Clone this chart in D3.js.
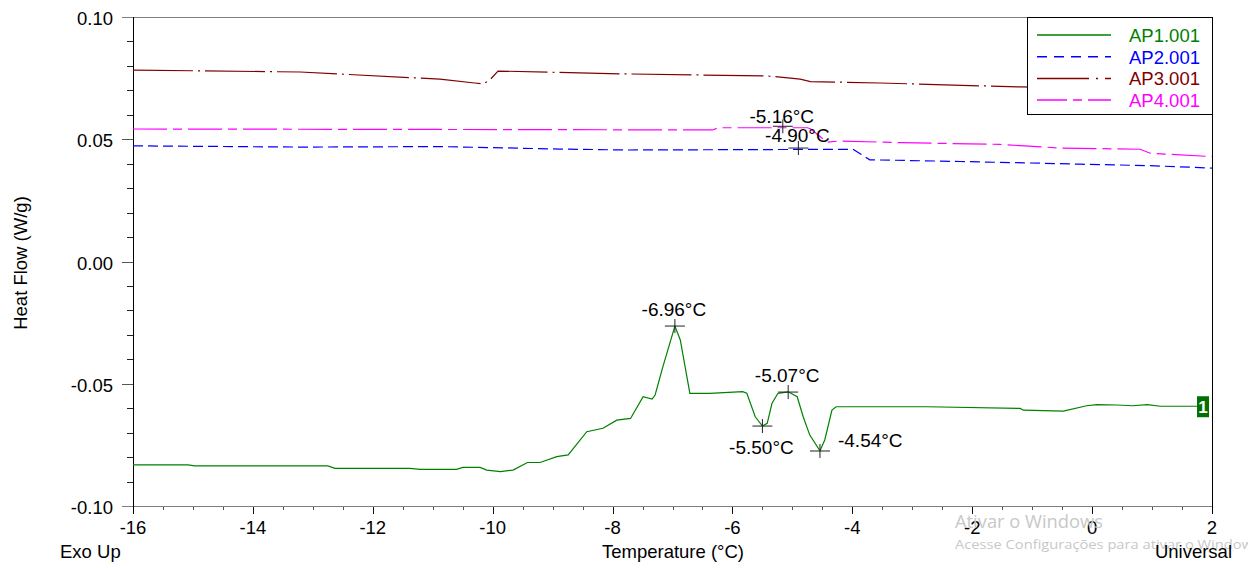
<!DOCTYPE html>
<html>
<head>
<meta charset="utf-8">
<script src="https://cdn.jsdelivr.net/npm/d3@7"></script>
<style>
  html, body { margin: 0; padding: 0; background: #fff; }
  svg { display: block; font-family: "Liberation Sans", Arial, sans-serif; }
</style>
</head>
<body>
<svg id="chart" width="1248" height="568"></svg>
<script>
// ---------- DATA ----------
const xTicks = [-16, -14, -12, -10, -8, -6, -4, -2, 0, 2];
const yTicks = [0.10, 0.05, 0.00, -0.05, -0.10];
const yTickLabels = ["0.10", "0.05", "0.00", "-0.05", "-0.10"];

const seriesNames = ["AP1.001", "AP2.001", "AP3.001", "AP4.001"];

// [temperature °C, heat flow W/g]
const ap1 = [
  [-16, -0.0832], [-15.08, -0.0832], [-14.97, -0.0836], [-12.75, -0.0836],
  [-12.63, -0.0846], [-11.38, -0.0846], [-11.21, -0.0850], [-10.60, -0.0850],
  [-10.50, -0.0842], [-10.21, -0.0842], [-10.10, -0.0853], [-9.87, -0.0859],
  [-9.66, -0.0853], [-9.42, -0.0822], [-9.21, -0.0822], [-8.93, -0.0798],
  [-8.74, -0.0791], [-8.43, -0.0696], [-8.16, -0.0682], [-7.93, -0.0649],
  [-7.70, -0.0642], [-7.49, -0.0553], [-7.34, -0.0563], [-7.29, -0.0546],
  [-7.16, -0.0430], [-6.96, -0.0264], [-6.87, -0.0321], [-6.71, -0.0539],
  [-6.38, -0.0539], [-5.83, -0.0532], [-5.76, -0.0539], [-5.62, -0.0635],
  [-5.50, -0.0673], [-5.42, -0.0662], [-5.34, -0.0580], [-5.24, -0.0539],
  [-5.07, -0.0533], [-4.92, -0.0553], [-4.82, -0.0635], [-4.71, -0.0710],
  [-4.54, -0.0774], [-4.46, -0.0730], [-4.34, -0.0608], [-4.27, -0.0594],
  [-2.75, -0.0594], [-1.20, -0.0601], [-1.15, -0.0608], [-0.48, -0.0612],
  [-0.09, -0.0590], [0.08, -0.0585], [0.41, -0.0587], [0.68, -0.0590],
  [0.92, -0.0585], [1.14, -0.0592], [1.75, -0.0592]
];

const ap2 = [
  [-16, 0.0473], [-13.21, 0.0468], [-10.88, 0.0470], [-8.88, 0.0460],
  [-7.75, 0.0456], [-3.99, 0.0459], [-3.71, 0.0416], [-2.20, 0.0409],
  [-0.87, 0.0402], [-0.20, 0.0398], [0.97, 0.0392], [2, 0.0382]
];

const ap3 = [
  [-16, 0.0783], [-13.21, 0.0775], [-10.88, 0.0746], [-10.30, 0.0730],
  [-10.16, 0.0726], [-10.05, 0.0742], [-9.91, 0.0779], [-7.75, 0.0767],
  [-5.42, 0.0759], [-4.87, 0.0746], [-4.70, 0.0736], [-3.54, 0.0730],
  [-1.20, 0.0714], [2, 0.0702]
];

const ap4 = [
  [-16, 0.0542], [-10.86, 0.0540], [-6.33, 0.0538], [-6.24, 0.0547],
  [-4.75, 0.0547], [-4.70, 0.0543], [-4.42, 0.0488], [-4.21, 0.0493],
  [-3.20, 0.0486], [-1.54, 0.0479], [-0.53, 0.0464], [0.80, 0.0459],
  [0.97, 0.0443], [2, 0.0429]
];

// peak annotations
const peakTemps  = [-6.96, -5.07, -5.50, -4.54, -5.16, -4.90];
const peakValues = [-0.0264, -0.0534, -0.0673, -0.0775, 0.0553, 0.0464];
const peakLabels = ["-6.96°C", "-5.07°C", "-5.50°C", "-4.54°C", "-5.16°C", "-4.90°C"];
const peakPlacement = ["above", "above", "below", "right", "above-tight", "above-mid"];

// ---------- STYLE ----------
const colors = ["#008000", "#0000ff", "#800000", "#ff00ff"];
const dashes = [null, "10,5", "60,5,2,5", "34,6,9,6"];
const legendDashes = [null, "10,7", "52,7,2,7", "30,6,9,6"];
const textColors = ["#008000", "#0000ff", "#800000", "#ff00ff"];
const FS = 18.5;

const svg = d3.select("#chart");
const pLeft = 133, pRight = 1212, pTop = 17, pBottom = 506;

const x = d3.scaleLinear().domain([-16, 2]).range([pLeft, pRight]);
const y = d3.scaleLinear().domain([-0.10, 0.10]).range([pBottom, pTop]);

const xMinor = d3.range(-16, 2.001, 0.5).filter(d => Math.abs(d % 2) > 1e-6);
const yMinor = d3.range(-0.09, 0.0901, 0.01).filter(d => Math.abs(Math.round(d * 100) % 5) !== 0);
const yMid = [0.05, 0.00, -0.05];

const g = svg.append("g");
const ry = d => Math.round(y(d)) + 0.5;
const rx = d => Math.round(x(d)) + 0.5;

// frame lines (grey top/bottom)
g.append("line").attr("x1", pLeft - 11).attr("x2", pRight + 0.5).attr("y1", pTop + 0.5).attr("y2", pTop + 0.5)
  .attr("stroke", "#808080");
g.append("line").attr("x1", pLeft - 11).attr("x2", pRight + 0.5).attr("y1", pBottom + 0.5).attr("y2", pBottom + 0.5)
  .attr("stroke", "#808080");

// Y minor ticks
g.selectAll(".ymin").data(yMinor).enter().append("line")
  .attr("x1", pLeft - 6).attr("x2", pLeft)
  .attr("y1", ry).attr("y2", ry).attr("stroke", "#222");
// Y major ticks
g.selectAll(".ymaj").data(yMid).enter().append("line")
  .attr("x1", pLeft - 11).attr("x2", pLeft)
  .attr("y1", ry).attr("y2", ry).attr("stroke", "#555");
// X minor ticks
g.selectAll(".xmin").data(xMinor).enter().append("line")
  .attr("x1", rx).attr("x2", rx)
  .attr("y1", pBottom + 1).attr("y2", pBottom + 4).attr("stroke", "#555");
// X major ticks
g.selectAll(".xmaj").data(xTicks).enter().append("line")
  .attr("x1", rx).attr("x2", rx)
  .attr("y1", pBottom + 1).attr("y2", pBottom + 8).attr("stroke", "#111");

// left axis and right frame
g.append("line").attr("x1", pLeft + 0.5).attr("x2", pLeft + 0.5).attr("y1", pTop).attr("y2", pBottom + 8)
  .attr("stroke", "#000");
g.append("line").attr("x1", pRight + 0.5).attr("x2", pRight + 0.5).attr("y1", pTop).attr("y2", pBottom + 8)
  .attr("stroke", "#000");

// tick labels
g.selectAll(".yl").data(yTicks).enter().append("text")
  .attr("x", 113).attr("y", d => y(d) + 8)
  .attr("text-anchor", "end").attr("font-size", FS).attr("fill", "#000")
  .text((d, i) => yTickLabels[i]);
g.selectAll(".xl").data(xTicks).enter().append("text")
  .attr("x", d => x(d)).attr("y", 534)
  .attr("text-anchor", "middle").attr("font-size", FS).attr("fill", "#000")
  .text(d => d < 0 ? "-" + Math.abs(d) : String(d));

// watermark
svg.append("text").attr("x", 955).attr("y", 528)
  .attr("font-family", "'Open Sans', 'Noto Sans', sans-serif")
  .attr("font-size", 18).attr("fill", "#c8c8c8")
  .attr("textLength", 148).attr("lengthAdjust", "spacingAndGlyphs")
  .text("Ativar o Windows");
svg.append("text").attr("x", 955).attr("y", 549)
  .attr("font-family", "'Open Sans', 'Noto Sans', sans-serif")
  .attr("font-size", 13).attr("fill", "#c8c8c8")
  .attr("textLength", 305).attr("lengthAdjust", "spacingAndGlyphs")
  .text("Acesse Configurações para ativar o Windows");

// axis titles
svg.append("text").attr("x", 673).attr("y", 558).attr("text-anchor", "middle")
  .attr("font-size", FS).text("Temperature (°C)");
svg.append("text").attr("x", 60).attr("y", 558).attr("font-size", FS).text("Exo Up");
svg.append("text").attr("x", 1232).attr("y", 558).attr("text-anchor", "end")
  .attr("font-size", FS).text("Universal");
svg.append("text").attr("transform", "translate(27,263) rotate(-90)")
  .attr("text-anchor", "middle").attr("font-size", FS).text("Heat Flow (W/g)");

// series
const line = d3.line().x(d => x(d[0])).y(d => y(d[1]));
const allSeries = [ap1, ap2, ap3, ap4];
const plot = svg.append("g");
[ap3, ap4, ap2, ap1].forEach(s => {
  const i = allSeries.indexOf(s);
  plot.append("path").datum(s).attr("d", line)
    .attr("fill", "none").attr("stroke", colors[i]).attr("stroke-width", 1.2)
    .attr("stroke-dasharray", dashes[i]);
});

// peak markers and labels
const ann = svg.append("g");
peakTemps.forEach((t, i) => {
  const cx = x(t), cy = y(peakValues[i]);
  ann.append("line").attr("x1", cx - 10).attr("x2", cx + 10).attr("y1", cy).attr("y2", cy)
    .attr("stroke", "#222").attr("stroke-width", 1);
  ann.append("line").attr("x1", cx).attr("x2", cx).attr("y1", cy - 7).attr("y2", cy + 7)
    .attr("stroke", "#222").attr("stroke-width", 1);
  let tx = cx - 1, ty = cy - 10, anchor = "middle";
  const p = peakPlacement[i];
  if (p === "below") { ty = cy + 28; }
  else if (p === "right") { tx = cx + 18; ty = cy - 4; anchor = "start"; }
  else if (p === "above-tight") { ty = cy - 3; }
  else if (p === "above-mid") { ty = cy - 6; }
  ann.append("text").attr("x", tx).attr("y", ty).attr("text-anchor", anchor)
    .attr("font-size", 19).attr("fill", "#000").text(peakLabels[i]);
});

// curve index tag "1"
const last = ap1[ap1.length - 1];
const tagX = x(last[0]), tagY = y(last[1]);
svg.append("rect").attr("x", tagX).attr("y", tagY - 10).attr("width", 12).attr("height", 21)
  .attr("fill", "#007000");
svg.append("text").attr("x", tagX + 6).attr("y", tagY + 7).attr("text-anchor", "middle")
  .attr("font-size", 17).attr("font-weight", "bold").attr("fill", "#fff").text("1");

// legend
const leg = svg.append("g");
leg.append("rect").attr("x", 1027.5).attr("y", 17.5).attr("width", 185).attr("height", 97)
  .attr("fill", "#fff").attr("stroke", "#000").attr("stroke-width", 1);
seriesNames.forEach((name, i) => {
  const ly = 35 + i * 21.7;
  leg.append("line").attr("x1", 1037).attr("x2", 1111).attr("y1", ly).attr("y2", ly)
    .attr("stroke", colors[i]).attr("stroke-width", 1.5)
    .attr("stroke-dasharray", legendDashes[i]);
  leg.append("text").attr("x", 1129).attr("y", ly + 7).attr("font-size", FS)
    .attr("fill", textColors[i]).text(name);
});
</script>
</body>
</html>
